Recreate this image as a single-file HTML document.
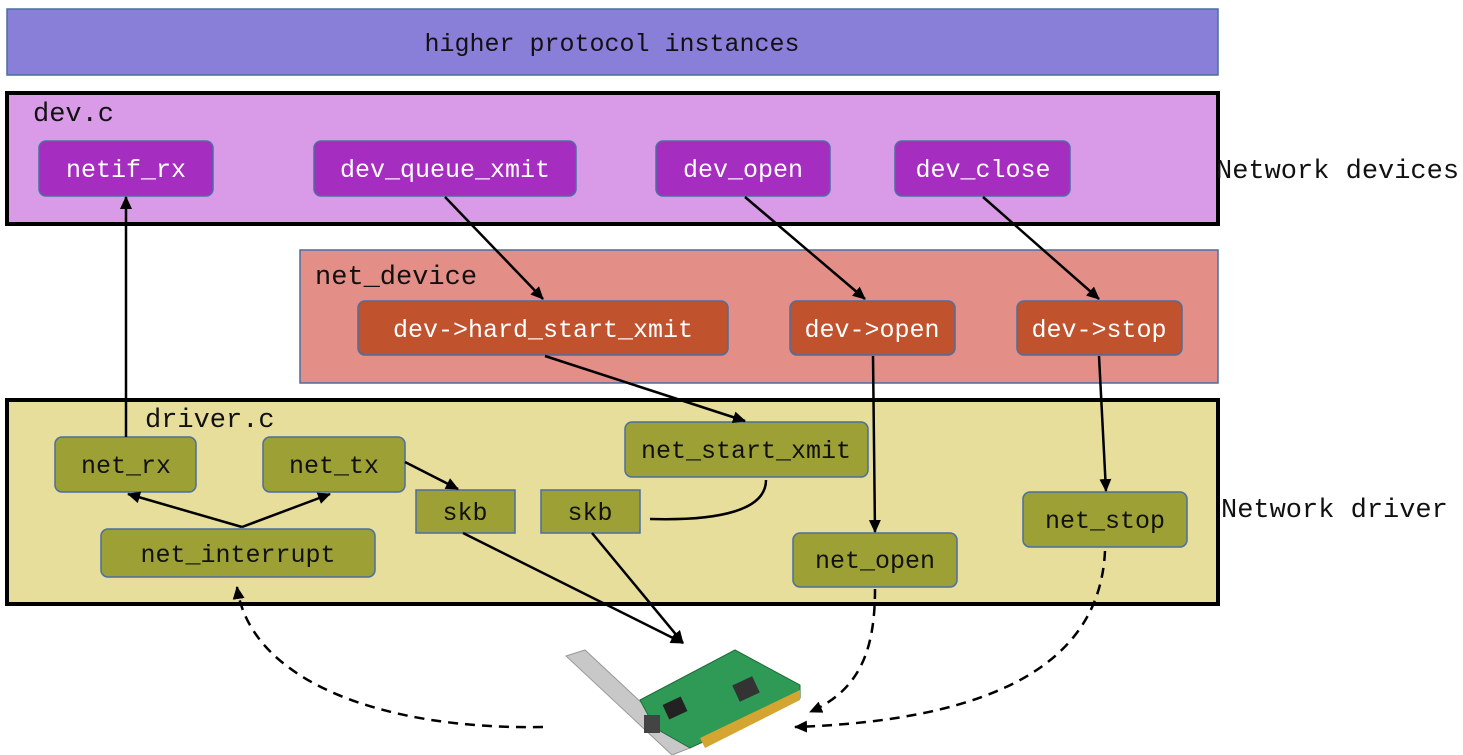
<!DOCTYPE html>
<html><head><meta charset="utf-8"><style>
html,body{margin:0;padding:0;background:#fff;}
svg{display:block;}
text{font-family:"Liberation Mono","DejaVu Sans Mono",monospace;font-size:25px;}
.w{fill:#fff;} .k{fill:#111;} .L{font-size:27px;}
</style></head><body>
<svg width="1463" height="755" viewBox="0 0 1463 755" xmlns="http://www.w3.org/2000/svg">
<defs>
<marker id="a" markerWidth="13" markerHeight="12" refX="12" refY="6" orient="auto" markerUnits="userSpaceOnUse">
<path d="M0,0 L13,6 L0,12 z" fill="#000"/></marker>
</defs>
<rect x="7" y="9" width="1211" height="66" fill="#8a7fd8" stroke="#4a6fa0" stroke-width="1.5"/>
<text x="612" y="51" text-anchor="middle" class="k">higher protocol instances</text>
<rect x="7" y="93" width="1211" height="131" fill="#d99be8" stroke="#000" stroke-width="4"/>
<text x="33" y="121" class="k L">dev.c</text>
<g fill="#a52dc0" stroke="#4a6fa0" stroke-width="1.5">
<rect x="39" y="141" width="174" height="55" rx="7"/>
<rect x="314" y="141" width="262" height="55" rx="7"/>
<rect x="656" y="141" width="174" height="55" rx="7"/>
<rect x="895" y="141" width="175" height="55" rx="7"/>
</g>
<text x="126" y="177" text-anchor="middle" class="w">netif_rx</text>
<text x="445" y="177" text-anchor="middle" class="w">dev_queue_xmit</text>
<text x="743" y="177" text-anchor="middle" class="w">dev_open</text>
<text x="983" y="177" text-anchor="middle" class="w">dev_close</text>
<text x="1216" y="178" class="k L">Network devices</text>
<rect x="300" y="250" width="918" height="133" fill="#e48e88" stroke="#4a6fa0" stroke-width="1.5"/>
<text x="315" y="284" class="k L">net_device</text>
<g fill="#c0522e" stroke="#4a6fa0" stroke-width="1.5">
<rect x="358" y="301" width="370" height="54" rx="7"/>
<rect x="790" y="301" width="165" height="54" rx="7"/>
<rect x="1017" y="301" width="165" height="54" rx="7"/>
</g>
<text x="543" y="337" text-anchor="middle" class="w">dev-&gt;hard_start_xmit</text>
<text x="872" y="337" text-anchor="middle" class="w">dev-&gt;open</text>
<text x="1099" y="337" text-anchor="middle" class="w">dev-&gt;stop</text>
<rect x="7" y="400" width="1211" height="204" fill="#e8de9c" stroke="#000" stroke-width="4"/>
<text x="145" y="427" class="k L">driver.c</text>
<text x="1221" y="517" class="k L">Network driver</text>
<g fill="#9da035" stroke="#4a6fa0" stroke-width="1.5">
<rect x="55" y="437" width="141" height="55" rx="7"/>
<rect x="263" y="437" width="142" height="55" rx="7"/>
<rect x="625" y="422" width="243" height="55" rx="7"/>
<rect x="416" y="490" width="99" height="43"/>
<rect x="541" y="490" width="99" height="43"/>
<rect x="101" y="529" width="274" height="48" rx="7"/>
<rect x="793" y="533" width="164" height="54" rx="7"/>
<rect x="1023" y="492" width="164" height="55" rx="7"/>
</g>
<text x="126" y="473" text-anchor="middle" class="k">net_rx</text>
<text x="334" y="473" text-anchor="middle" class="k">net_tx</text>
<text x="746" y="458" text-anchor="middle" class="k">net_start_xmit</text>
<text x="465" y="520" text-anchor="middle" class="k">skb</text>
<text x="590" y="520" text-anchor="middle" class="k">skb</text>
<text x="238" y="562" text-anchor="middle" class="k">net_interrupt</text>
<text x="875" y="568" text-anchor="middle" class="k">net_open</text>
<text x="1105" y="528" text-anchor="middle" class="k">net_stop</text>
<g stroke="#000" stroke-width="2.5" fill="none" marker-end="url(#a)">
<line x1="126" y1="437" x2="126" y2="197"/>
<line x1="445" y1="197" x2="543" y2="299"/>
<line x1="745" y1="197" x2="865" y2="299"/>
<line x1="983" y1="197" x2="1099" y2="299"/>
<line x1="545" y1="356" x2="745" y2="421"/>
<line x1="873" y1="356" x2="875" y2="532"/>
<line x1="1099" y1="356" x2="1106" y2="491"/>
<line x1="242" y1="527" x2="128" y2="494"/>
<line x1="242" y1="527" x2="330" y2="494"/>
<line x1="405" y1="462" x2="458" y2="489"/>
<line x1="463" y1="533" x2="683" y2="643"/>
<line x1="592" y1="533" x2="683" y2="643"/>
</g>
<path d="M766,480 C766,510 720,521 650,519" stroke="#000" stroke-width="2.5" fill="none"/>
<g stroke="#000" stroke-width="2.5" fill="none" stroke-dasharray="10,7" marker-end="url(#a)">
<path d="M543,727 C380,730 250,680 237,587"/>
<path d="M875,589 C875,650 860,690 810,712"/>
<path d="M1105,551 C1100,660 1000,720 795,727"/>
</g>
<polygon points="566,656 585,650 690,748 672,755" fill="#c8c8c8" stroke="#999"/>
<polygon points="640,700 735,650 800,685 800,698 690,748 655,728" fill="#2e9a55" stroke="#1f6b3a"/>
<polygon points="700,738 800,690 800,700 705,748" fill="#d4a530"/>
<rect x="665" y="700" width="20" height="16" fill="#222" transform="rotate(-25 675 708)"/>
<rect x="735" y="680" width="22" height="18" fill="#333" transform="rotate(-25 746 689)"/>
<rect x="644" y="715" width="16" height="18" fill="#444"/>
</svg>
</body></html>
